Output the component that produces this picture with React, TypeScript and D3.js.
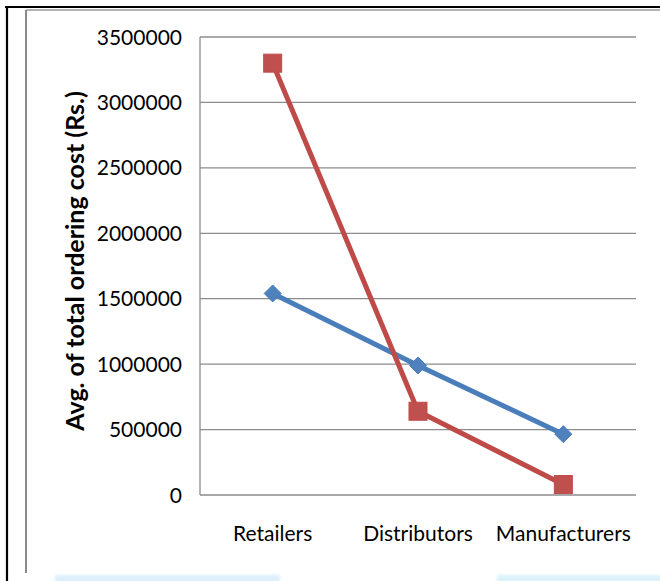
import React from "react";
import * as d3 from "d3";

// Average total ordering cost per supply-chain tier
const categories = ["Retailers", "Distributors", "Manufacturers"];
const seriesBlue = [1540000, 990000, 465000];
const seriesRed = [3300000, 640000, 80000];
const yTicks = [0, 500000, 1000000, 1500000, 2000000, 2500000, 3000000, 3500000];
const yTitle = "Avg. of total ordering cost (Rs.)";

const W = 660;
const H = 581;
const plot = { left: 200, right: 636, top: 37, bottom: 495 };
const FONT = "Lato, 'Open Sans', sans-serif";

export default function App() {
  const x = d3
    .scaleBand<string>()
    .domain(categories)
    .range([plot.left, plot.right])
    .paddingInner(0)
    .paddingOuter(0);
  const y = d3.scaleLinear().domain([0, 3500000]).range([plot.bottom, plot.top]);
  const cx = (c: string) => (x(c) ?? 0) + x.bandwidth() / 2;

  const line = d3
    .line<number>()
    .x((_, i) => cx(categories[i]))
    .y((v) => y(v));

  const blue = "#4A7EBB";
  const blueFill = "#4F81BD";
  const red = "#BE4B48";
  const redFill = "#C0504D";
  const sq = 18;
  const dm = 8.5;

  return (
    <svg
      width={W}
      height={H}
      style={{ position: "absolute", left: 0, top: 0, background: "#fff" }}
    >
      <defs>
        <filter id="haze" x="-10%" y="-100%" width="120%" height="300%">
          <feGaussianBlur stdDeviation="1.5" />
        </filter>
      </defs>

      {/* page frame */}
      <line x1={5} x2={W} y1={7} y2={7} stroke="#000" strokeWidth={2.2} />
      <line x1={7} x2={7} y1={6} y2={H} stroke="#000" strokeWidth={2.2} />
      <line x1={26} x2={W} y1={10} y2={10} stroke="#9a9a9a" strokeWidth={1.5} />
      <line x1={26} x2={26} y1={10} y2={573} stroke="#8a8a8a" strokeWidth={2} />

      {/* light band along the lower edge */}
      <g filter="url(#haze)">
        <rect x={55} y={575} width={225} height={10} fill="#dceffa" />
        <rect x={497} y={575} width={170} height={10} fill="#dcf2fb" />
      </g>

      {/* gridlines */}
      {yTicks.map((t) => (
        <line
          key={t}
          x1={plot.left}
          x2={plot.right}
          y1={y(t)}
          y2={y(t)}
          stroke="#8c8c8c"
          strokeWidth={1.3}
        />
      ))}
      <line
        x1={plot.left}
        x2={plot.left}
        y1={plot.top}
        y2={plot.bottom}
        stroke="#8c8c8c"
        strokeWidth={1.3}
      />

      {/* y tick labels */}
      {yTicks.map((t) => (
        <text
          key={t}
          x={182}
          y={y(t)}
          dy="0.36em"
          textAnchor="end"
          fontFamily={FONT}
          fontSize={21}
          fill="#000"
        >
          {t}
        </text>
      ))}

      {/* category labels */}
      {categories.map((c) => (
        <text
          key={c}
          x={cx(c)}
          y={541}
          textAnchor="middle"
          fontFamily={FONT}
          fontSize={21}
          fill="#000"
        >
          {c}
        </text>
      ))}

      {/* y axis title */}
      <text
        transform={`translate(84, 261) rotate(-90)`}
        textAnchor="middle"
        fontFamily={FONT}
        fontWeight="bold"
        fontSize={25}
        fill="#000"
      >
        {yTitle}
      </text>

      {/* series lines */}
      <path d={line(seriesBlue) ?? ""} fill="none" stroke={blue} strokeWidth={5} strokeLinejoin="round" />
      <path d={line(seriesRed) ?? ""} fill="none" stroke={red} strokeWidth={5} strokeLinejoin="round" />

      {/* markers */}
      {seriesBlue.map((v, i) => {
        const px = cx(categories[i]);
        const py = y(v);
        return (
          <path
            key={"b" + i}
            d={`M${px},${py - dm}L${px + dm},${py}L${px},${py + dm}L${px - dm},${py}Z`}
            fill={blueFill}
            stroke={blue}
            strokeWidth={1}
          />
        );
      })}
      {seriesRed.map((v, i) => {
        const px = cx(categories[i]);
        const py = y(v);
        return (
          <rect
            key={"r" + i}
            x={px - sq / 2}
            y={py - sq / 2}
            width={sq}
            height={sq}
            fill={redFill}
            stroke={red}
            strokeWidth={1}
          />
        );
      })}
    </svg>
  );
}
